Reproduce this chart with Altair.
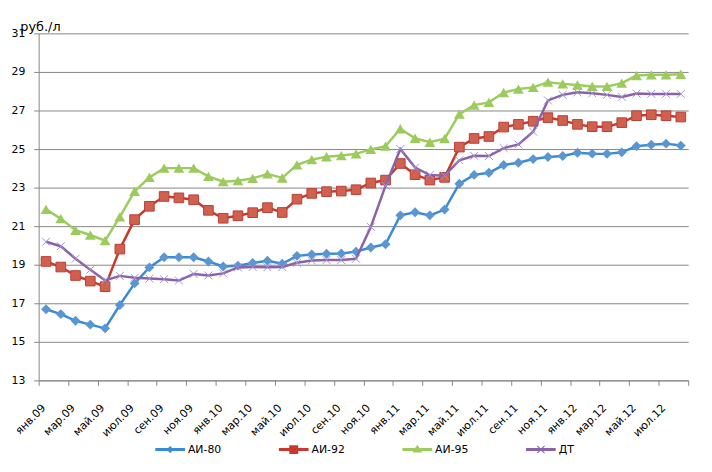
import json
import altair as alt
import pandas as pd

categories = [
    "янв.09", "фев.09", "мар.09", "апр.09", "май.09", "июн.09", "июл.09", "авг.09", "сен.09", "окт.09", "ноя.09", "дек.09",
    "янв.10", "фев.10", "мар.10", "апр.10", "май.10", "июн.10", "июл.10", "авг.10", "сен.10", "окт.10", "ноя.10", "дек.10",
    "янв.11", "фев.11", "мар.11", "апр.11", "май.11", "июн.11", "июл.11", "авг.11", "сен.11", "окт.11", "ноя.11", "дек.11",
    "янв.12", "фев.12", "мар.12", "апр.12", "май.12", "июн.12", "июл.12", "авг.12",
]

ai80 = [16.69, 16.44, 16.09, 15.89, 15.70, 16.91, 18.03, 18.86, 19.39, 19.39, 19.39, 19.17,
        18.91, 18.95, 19.09, 19.21, 19.05, 19.46, 19.53, 19.57, 19.58, 19.68, 19.89, 20.06,
        21.56, 21.72, 21.56, 21.86, 23.20, 23.66, 23.77, 24.17, 24.29, 24.48, 24.59, 24.64,
        24.81, 24.76, 24.75, 24.83, 25.15, 25.22, 25.28, 25.18]
ai92 = [19.17, 18.88, 18.44, 18.15, 17.86, 19.81, 21.34, 22.03, 22.54, 22.47, 22.37, 21.82,
        21.41, 21.54, 21.70, 21.96, 21.71, 22.40, 22.70, 22.79, 22.82, 22.89, 23.24, 23.39,
        24.25, 23.67, 23.39, 23.53, 25.10, 25.55, 25.65, 26.14, 26.28, 26.44, 26.63, 26.48,
        26.28, 26.16, 26.16, 26.37, 26.73, 26.78, 26.73, 26.66]
ai95 = [21.87, 21.39, 20.79, 20.54, 20.25, 21.48, 22.81, 23.53, 24.01, 24.01, 24.01, 23.58,
        23.31, 23.36, 23.48, 23.71, 23.50, 24.18, 24.45, 24.60, 24.66, 24.75, 24.98, 25.15,
        26.05, 25.56, 25.35, 25.54, 26.81, 27.28, 27.42, 27.93, 28.11, 28.20, 28.47, 28.38,
        28.32, 28.25, 28.25, 28.42, 28.81, 28.85, 28.85, 28.88]
dt = [20.19, 19.96, 19.31, 18.74, 18.19, 18.42, 18.32, 18.28, 18.25, 18.18, 18.52, 18.44,
      18.55, 18.86, 18.88, 18.87, 18.88, 19.10, 19.22, 19.24, 19.24, 19.31, 20.96, 23.10,
      25.00, 24.04, 23.65, 23.62, 24.42, 24.65, 24.64, 25.05, 25.24, 25.90, 27.52, 27.81,
      27.94, 27.89, 27.81, 27.70, 27.88, 27.86, 27.86, 27.86]

series = ["АИ-80", "АИ-92", "АИ-95", "ДТ"]
y_ticks = [13, 15, 17, 19, 21, 23, 25, 27, 29, 31]
tick_labels = categories[::2]

line_colors = ["#3A8AD6", "#C9382C", "#9CCB5E", "#8A63A6"]
legend_paths = [
    "M-1,-0.1H1V0.1H-1Z M0,-0.25L0.23,0L0,0.25L-0.23,0Z",
    "M-1,-0.1H1V0.1H-1Z M-0.3,-0.3H0.3V0.3H-0.3Z",
    "M-1,-0.1H1V0.1H-1Z M0,-0.32L0.34,0.2H-0.34Z",
    "M-1,-0.1H1V0.1H-1Z M-0.27,-0.22L-0.22,-0.27L0.27,0.22L0.22,0.27Z M0.22,-0.27L0.27,-0.22L-0.22,0.27L-0.27,0.22Z",
]

n = len(categories)
df = pd.DataFrame({
    "xi": [i + 0.5 for i in range(n)],
    "month": categories,
    "АИ-80": ai80,
    "АИ-92": ai92,
    "АИ-95": ai95,
    "ДТ": dt,
})
long_df = df.melt(id_vars=["xi", "month"], value_vars=series, var_name="series", value_name="price")

FONT = "DejaVu Sans"
GRID = "#868686"

label_expr = "datum.value < %d ? %s[datum.value / 2] : ''" % (n, json.dumps(tick_labels, ensure_ascii=False))

x_axis = alt.Axis(
    values=list(range(0, n + 1, 2)),
    labelExpr=label_expr,
    labelAngle=315,
    labelAlign="right",
    labelBaseline="middle",
    labelOffset=5,
    labelPadding=21,
    labelFont=FONT,
    labelFontSize=11,
    labelColor="#000000",
    labelOverlap=False,
    labelBound=False,
    labelFlush=False,
    tickSize=5,
    tickColor=GRID,
    domainColor=GRID,
    grid=False,
    title=None,
)
y_axis = alt.Axis(
    values=y_ticks,
    labelFont=FONT,
    labelFontSize=11,
    labelColor="#000000",
    labelPadding=9,
    tickSize=5,
    tickColor=GRID,
    domainColor=GRID,
    grid=True,
    gridColor=GRID,
    gridWidth=1,
    title="руб./л",
    titleAngle=0,
    titleX=-19,
    titleY=-3,
    titleAlign="left",
    titleBaseline="alphabetic",
    titleFont=FONT,
    titleFontSize=13,
    titleFontWeight="normal",
    titleColor="#000000",
)

x_enc = alt.X("xi:Q", scale=alt.Scale(domain=[0, n], nice=False, zero=False), axis=x_axis)


def y_enc(field):
    return alt.Y(f"{field}:Q", scale=alt.Scale(domain=[13, 31], nice=False, zero=False), axis=y_axis)


base = alt.Chart(df)

layers = []
# АИ-80
layers.append(base.mark_line(color=line_colors[0], strokeWidth=2.5).encode(x=x_enc, y=y_enc("АИ-80")))
layers.append(base.mark_point(shape="diamond", filled=True, size=100, color="#5A96D0", opacity=1)
              .encode(x=x_enc, y=y_enc("АИ-80")))
# АИ-92
layers.append(base.mark_line(color=line_colors[1], strokeWidth=2.5).encode(x=x_enc, y=y_enc("АИ-92")))
layers.append(base.mark_point(shape="square", filled=True, size=95, fill="#D1614F", stroke="#B8403A",
                              strokeWidth=1, opacity=1)
              .encode(x=x_enc, y=y_enc("АИ-92")))
# АИ-95
layers.append(base.mark_line(color=line_colors[2], strokeWidth=2.5).encode(x=x_enc, y=y_enc("АИ-95")))
layers.append(base.mark_point(shape="triangle-up", filled=True, size=120, color="#9BCB5C", opacity=1)
              .encode(x=x_enc, y=y_enc("АИ-95")))
# ДТ
layers.append(base.mark_line(color=line_colors[3], strokeWidth=2.5).encode(x=x_enc, y=y_enc("ДТ")))
layers.append(base.mark_point(shape="M-1,-1L1,1M-1,1L1,-1", filled=False, size=64, stroke="#A293D8",
                              strokeWidth=1, opacity=1)
              .encode(x=x_enc, y=y_enc("ДТ")))

# legend layer (no visible marks; legend from explicit scale domains)
legend_layer = alt.Chart(long_df).transform_filter("false").mark_point(filled=True, opacity=1, size=900).encode(
    x=x_enc,
    y=y_enc("price"),
    color=alt.Color("series:N", scale=alt.Scale(domain=series, range=line_colors),
                    legend=alt.Legend(
                        orient="none", legendX=118, legendY=406, direction="horizontal", columns=4,
                        symbolSize=900, symbolStrokeWidth=0, symbolOpacity=1,
                        labelFont=FONT, labelFontSize=11, labelColor="#000000", labelOffset=3,
                        columnPadding=58, gridAlign="all", title=None, padding=0,
                    )),
    shape=alt.Shape("series:N", scale=alt.Scale(domain=series, range=legend_paths)),
)
layers.append(legend_layer)

chart = alt.layer(*layers).properties(
    width=657,
    height=351,
    autosize=alt.AutoSizeParams(type="none"),
    padding={"left": 31, "top": 23, "right": 16, "bottom": 90},
    background="white",
).configure_view(stroke=None)

chart.save("out.html", embed_options={"renderer": "svg", "actions": False})
